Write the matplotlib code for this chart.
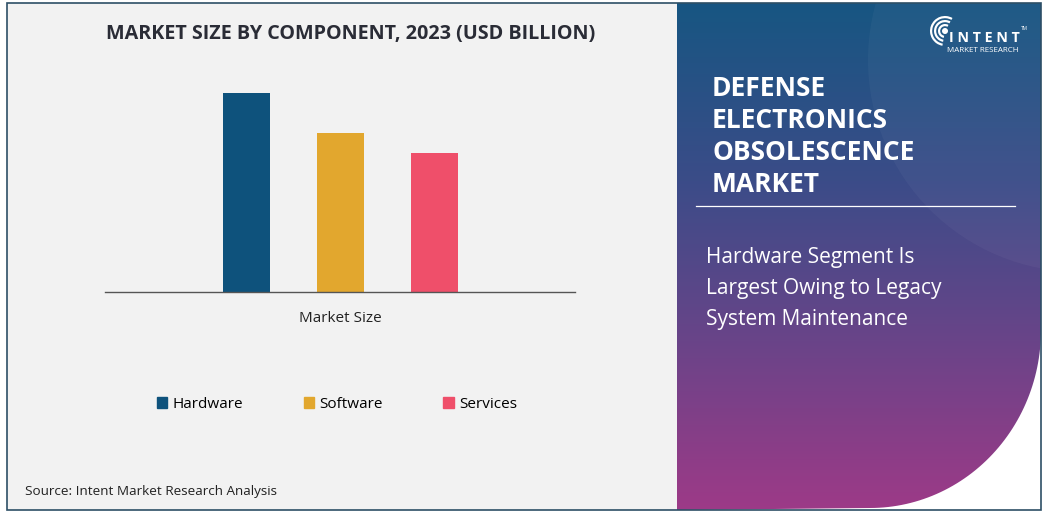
import numpy as np
import matplotlib
matplotlib.use("Agg")
import matplotlib.pyplot as plt
from matplotlib.patches import Rectangle, Circle, PathPatch, Wedge
from matplotlib.path import Path
from matplotlib.colors import to_rgb

plt.rcParams['font.family'] = ['Open Sans', 'DejaVu Sans']

# data (USD billion)
categories = ['Hardware', 'Software', 'Services']
market_size = [2.0, 1.6, 1.4]
bar_colors = ['#0e527c', '#e2a72e', '#ef4f6a']
x_label = 'Market Size'
chart_title = 'MARKET SIZE BY COMPONENT, 2023 (USD BILLION)'
panel_title = ['DEFENSE', 'ELECTRONICS', 'OBSOLESCENCE', 'MARKET']
panel_sub = ['Hardware Segment Is', 'Largest Owing to Legacy', 'System Maintenance']
source = 'Source: Intent Market Research Analysis'

W, H = 1043, 513
fig = plt.figure(figsize=(W / 100, H / 100), dpi=100)
fig.patch.set_facecolor('white')

# background canvas in pixel coords
bg = fig.add_axes([0, 0, 1, 1])
bg.set_xlim(0, W)
bg.set_ylim(H, 0)
bg.axis('off')

bg.add_patch(Rectangle((7, 3), 680, 507, facecolor='#f2f2f2', edgecolor='none'))

# right panel: gradient clipped to a shape with a rounded bottom-right corner
t = np.linspace(0, np.pi / 2, 60)
cx, cy, rx, ry = 870, 330, 171, 178
arc = [(cx + rx * np.cos(a), cy + ry * np.sin(a)) for a in t]
verts = [(677, 3), (1041, 3)] + arc + [(677, 510), (677, 3)]
codes = [Path.MOVETO] + [Path.LINETO] * (len(verts) - 2) + [Path.CLOSEPOLY]
panel = PathPatch(Path(verts, codes), facecolor='none', edgecolor='none')
bg.add_patch(panel)

stops = [(0.0, '#175682'), (0.35, '#3b4c88'), (0.6, '#5f4689'), (1.0, '#9d3a87')]
ys = np.linspace(0, 1, 300)
grad = np.zeros((300, 1, 3))
for i in range(3):
    grad[:, 0, i] = np.interp(ys, [s[0] for s in stops], [to_rgb(s[1])[i] for s in stops])
im = bg.imshow(grad, extent=(677, 1043, 510, 3), aspect='auto', zorder=1)
im.set_clip_path(panel)

glow = Circle((1080, 60), 212, facecolor='white', alpha=0.035, edgecolor='none', zorder=2)
bg.add_patch(glow)
glow.set_clip_path(panel)

# outer border
bg.add_patch(Rectangle((7, 3), 1034, 507, facecolor='none', edgecolor='#2d4f66', lw=1.2, zorder=5))

# logo
for r in [7, 11, 15]:
    bg.add_patch(Wedge((945, 31), r, 100, 300, width=2.2, facecolor='white', edgecolor='none', zorder=3))
bg.add_patch(Circle((945, 31), 3, facecolor='white', edgecolor='none', zorder=3))
bg.text(949, 38, 'I N T E N T', color='white', fontsize=10.3, fontweight='bold', va='center', ha='left', zorder=3)
bg.text(1021, 29, 'TM', color='white', fontsize=3.5, va='center', ha='left', zorder=3)
bg.text(983, 50, 'MARKET RESEARCH', color='white', fontsize=5.8, va='center', ha='center', zorder=3)

for i, line in enumerate(panel_title):
    bg.text(712, 89 + 32 * i, line, color='white', fontsize=19, fontweight='bold',
            va='center', ha='left', zorder=3)
bg.plot([696, 1015], [206, 206], color='white', lw=0.9, zorder=3)
for i, line in enumerate(panel_sub):
    bg.text(706, 257 + 31.5 * i, line, color='white', fontsize=15, va='center', ha='left', zorder=3)

bg.text(351, 34, chart_title, color='#2a2c36', fontsize=14.2, fontweight='bold', va='center', ha='center')
bg.text(25, 491, source, color='#222222', fontsize=9.7, va='center', ha='left')

# bar chart
ax = fig.add_axes([105 / W, 1 - 292 / H, 470 / W, 212 / H])
ax.patch.set_alpha(0)
x = np.arange(len(categories)) - 1
ax.bar(x, market_size, width=0.5, color=bar_colors, label=categories)
ax.set_xlim(-2.5, 2.5)
ax.set_ylim(0, max(market_size) * 212 / 199)
for s in ['top', 'right', 'left']:
    ax.spines[s].set_visible(False)
ax.spines['bottom'].set_color('#555555')
ax.spines['bottom'].set_linewidth(1.0)
ax.set_yticks([])
ax.set_xticks([0])
ax.set_xticklabels([x_label], fontsize=11, color='#222222')
ax.tick_params(axis='x', length=0, pad=14)

handles = [Rectangle((0, 0), 1, 1, color=c) for c in bar_colors]
fig.legend(handles, categories, loc='center', bbox_to_anchor=(337 / W, 1 - 404 / H), ncol=3,
           frameon=False, fontsize=11, handlelength=0.7, handleheight=0.7,
           handletextpad=0.35, columnspacing=3.95)

fig.savefig('out.png', dpi=100, facecolor='white')
